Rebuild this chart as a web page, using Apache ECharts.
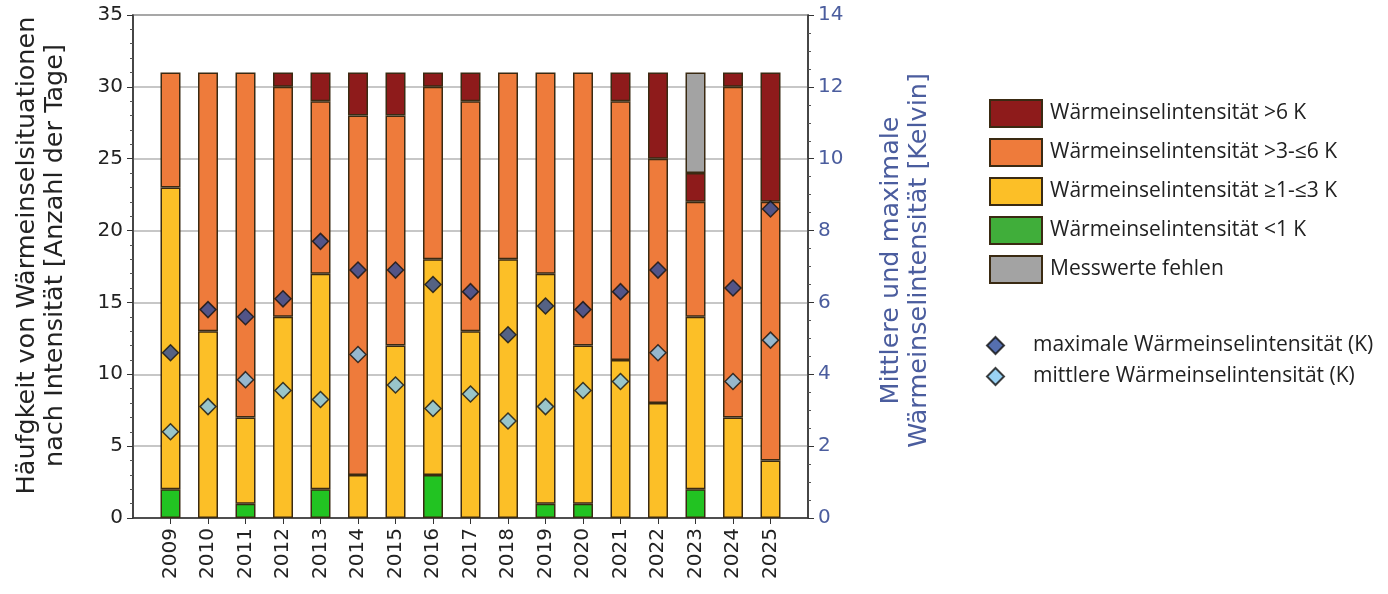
<!DOCTYPE html>
<html>
<head>
<meta charset="utf-8">
<script src="https://cdn.jsdelivr.net/npm/echarts@6/dist/echarts.min.js"></script>
<style>
html,body{margin:0;padding:0;background:#fff;}
#chart{width:1388px;height:594px;}
</style>
</head>
<body>
<div id="chart"></div>
<script>
const years = ['2009','2010','2011','2012','2013','2014','2015','2016','2017','2018','2019','2020','2021','2022','2023','2024','2025'];
const daysBelow1 = [2,0,1,0,2,0,0,3,0,0,1,1,0,0,2,0,0];
const days1to3   = [21,13,6,14,15,3,12,15,13,18,16,11,11,8,12,7,4];
const days3to6   = [8,18,24,16,12,25,16,12,16,13,14,19,18,17,8,23,18];
const daysAbove6 = [0,0,0,1,2,3,3,1,2,0,0,0,2,6,2,1,9];
const daysMissing= [0,0,0,0,0,0,0,0,0,0,0,0,0,0,7,0,0];
const maxIntensity  = [4.6,5.8,5.6,6.1,7.7,6.9,6.9,6.5,6.3,5.1,5.9,5.8,6.3,6.9,null,6.4,8.6];
const meanIntensity = [2.4,3.1,3.85,3.55,3.3,4.55,3.7,3.05,3.45,2.7,3.1,3.55,3.8,4.6,null,3.8,4.95];

const names = {
  above6: 'Wärmeinselintensität >6 K',
  b3to6: 'Wärmeinselintensität >3-≤6 K',
  b1to3: 'Wärmeinselintensität ≥1-≤3 K',
  below1: 'Wärmeinselintensität <1 K',
  missing: 'Messwerte fehlen',
  max: 'maximale Wärmeinselintensität (K)',
  mean: 'mittlere Wärmeinselintensität (K)'
};

// padded category list: an empty slot on each side gives the plot's side margins
const axisCats = [''].concat(years, ['']);
function padBars(arr){ return ['-'].concat(arr.map(v => v ? v : '-'), ['-']); }
function padPts(arr){ return ['-'].concat(arr.map(v => v == null ? '-' : v), ['-']); }

const border = {borderColor:'#3a2a12', borderWidth:1.5};
function barSeries(name, arr, color){
  return {name, type:'bar', stack:'days', barWidth:20, data:padBars(arr),
    itemStyle:Object.assign({color}, border), emphasis:{disabled:true}};
}
const axisFont = 'DejaVu Sans';
const blue = '#4b5d9e';

const chart = echarts.init(document.getElementById('chart'), null, {renderer:'canvas'});
chart.setOption({
  animation:false,
  grid:{left:133, right:580, top:15, bottom:76, show:true, borderColor:'#555', borderWidth:1.5, backgroundColor:'transparent'},
  legend:[{
    orient:'vertical', left:984, top:94, itemWidth:52, itemHeight:27, itemGap:10,
    icon:'rect',
    textStyle:{fontFamily:'Open Sans', fontSize:21, color:'#222', padding:[0,0,0,3]},
    data:[{name:names.above6},{name:names.b3to6},{name:names.b1to3},{name:names.below1, itemStyle:{color:'#40ae3a'}},{name:names.missing}],
    selectedMode:false
  },{
    orient:'vertical', left:981, top:330, itemWidth:17, itemHeight:17, itemGap:10,
    icon:'diamond',
    textStyle:{fontFamily:'Open Sans', fontSize:21, color:'#222', padding:[0,0,0,24]},
    data:[names.max, names.mean],
    selectedMode:false
  }],
  xAxis:{
    type:'category', data:axisCats, boundaryGap:false,
    axisLine:{lineStyle:{color:'#333', width:1.5}},
    axisTick:{show:true, length:6, lineStyle:{color:'#333'}, interval:(i,v)=>v!==''},
    axisLabel:{rotate:90, fontFamily:axisFont, fontSize:20, color:'#222', margin:10, interval:0},
    splitLine:{show:false}
  },
  yAxis:[{
    type:'value', min:0, max:35, interval:5, position:'left',
    name:'Häufgkeit von Wärmeinselsituationen\nnach Intensität [Anzahl der Tage]',
    nameLocation:'middle', nameRotate:90, nameGap:64,
    nameTextStyle:{fontFamily:axisFont, fontSize:25.5, color:'#222', lineHeight:28, padding:[0,0,0,22]},
    axisLine:{show:true, lineStyle:{color:'#333', width:1.5}},
    axisTick:{show:true, length:6, lineStyle:{color:'#333'}},
    minorTick:{show:true, splitNumber:5, length:3, lineStyle:{color:'#555'}},
    axisLabel:{fontFamily:axisFont, fontSize:20, color:'#222', margin:10},
    splitLine:{show:true, lineStyle:{color:'#b4b4b4', width:1.5}}
  },{
    type:'value', min:0, max:14, interval:2, position:'right',
    name:'Mittlere und maximale\nWärmeinselintensität [Kelvin]',
    nameLocation:'middle', nameRotate:90, nameGap:69,
    nameTextStyle:{fontFamily:axisFont, fontSize:25.5, color:blue, lineHeight:28, padding:[0,0,0,12]},
    axisLine:{show:true, lineStyle:{color:'#333', width:1.5}},
    axisTick:{show:true, length:6, lineStyle:{color:'#333'}},
    minorTick:{show:true, splitNumber:4, length:3, lineStyle:{color:'#555'}},
    axisLabel:{fontFamily:axisFont, fontSize:20, color:blue, margin:10},
    splitLine:{show:false}
  }],
  series:[
    barSeries(names.below1, daysBelow1, '#22c322'),
    barSeries(names.b1to3, days1to3, '#fcbf27'),
    barSeries(names.b3to6, days3to6, '#ee7b3b'),
    barSeries(names.above6, daysAbove6, '#8e1b1b'),
    barSeries(names.missing, daysMissing, '#a3a3a3'),
    {name:names.max, type:'scatter', yAxisIndex:1, symbol:'diamond', symbolSize:[16,16], z:5,
      data:padPts(maxIntensity), itemStyle:{color:'#2b4b9b', borderColor:'#111', borderWidth:1.5}},
    {name:names.mean, type:'scatter', yAxisIndex:1, symbol:'diamond', symbolSize:[16,16], z:5,
      data:padPts(meanIntensity), itemStyle:{color:'#7fc7f2', borderColor:'#111', borderWidth:1.5}}
  ]
});
</script>
</body>
</html>
